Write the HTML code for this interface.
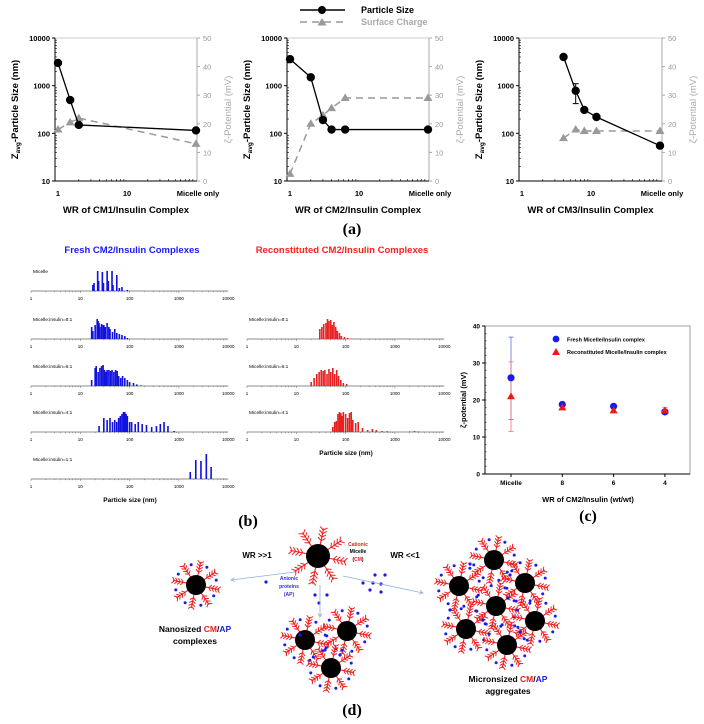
<!DOCTYPE html>
<html><head><meta charset="utf-8"><style>
html,body{margin:0;padding:0;background:#fff;}
svg{display:block;font-family:"Liberation Sans",Arial,sans-serif;}
.b{font-weight:bold}
</style></head><body>
<svg id="fig" width="704" height="724" viewBox="0 0 704 724" xmlns="http://www.w3.org/2000/svg">
<g id="legendA">
  <line x1="300" y1="10" x2="345" y2="10" stroke="#000" stroke-width="1.5"/>
  <circle cx="322" cy="10" r="4" fill="#000"/>
  <line x1="300" y1="22" x2="345" y2="22" stroke="#999" stroke-width="1.5" stroke-dasharray="7,5"/>
  <polygon points="322,18 326.5,25.5 317.5,25.5" fill="#999"/>
  <text x="361" y="13" font-size="9" class="b">Particle Size</text>
  <text x="361" y="25" font-size="9" class="b" fill="#aaa">Surface Charge</text>
</g>
<text x="352" y="234" font-size="16" font-weight="bold" font-family="Liberation Serif,serif" text-anchor="middle">(a)</text>
<text x="248" y="526" font-size="16" font-weight="bold" font-family="Liberation Serif,serif" text-anchor="middle">(b)</text>
<text x="588" y="521" font-size="16" font-weight="bold" font-family="Liberation Serif,serif" text-anchor="middle">(c)</text>
<text x="352" y="715" font-size="16" font-weight="bold" font-family="Liberation Serif,serif" text-anchor="middle">(d)</text>
<text x="132" y="253" font-size="9.5" class="b" fill="#1a1aff" text-anchor="middle">Fresh CM2/Insulin Complexes</text>
<text x="342" y="253" font-size="9.5" class="b" fill="#ff2020" text-anchor="middle">Reconstituted CM2/Insulin Complexes</text>
<text x="130" y="502" font-size="6.5" class="b" text-anchor="middle">Particle size (nm)</text>
<text x="346" y="455" font-size="6.5" class="b" text-anchor="middle">Particle size (nm)</text>
</svg>
<script>
const NS='http://www.w3.org/2000/svg';
const svg=document.getElementById('fig');
function mk(tag,attrs,parent){const e=document.createElementNS(NS,tag);for(const k in attrs)e.setAttribute(k,attrs[k]);(parent||svg).appendChild(e);return e;}

// ---------- Panel (a) data ----------
const a1Cats=['1','1.5','2','Micelle only'];
const a1X=[1,1.5,2,100];
const a1Size=[3000,500,150,115];
const a1Charge=[18,20.5,22,13];
const a2Cats=['1','2','3','4','6','Micelle only'];
const a2X=[1,2,3,4,6.3,100];
const a2Size=[3600,1500,190,120,120,120];
const a2Charge=[2.5,20,23,25.5,29,29];
const a3Cats=['4','6','8','12','Micelle only'];
const a3X=[4,6,8,12,100];
const a3Size=[4000,780,310,220,55];
const a3SizeErrLo=[4000,420,310,220,55];
const a3SizeErrHi=[4000,1100,310,220,55];
const a3Charge=[15,18,17.5,17.5,17.5];
const yLogTicks=[10,100,1000,10000];
const yChargeTicks=[0,10,20,30,40,50];

function panelA(left,right,x0,xVals,size,charge,title,name,errLo,errHi){
  const top=38,bot=181,dec=69;
  const g=mk('g',{});
  
  
  const xs=v=>x0+Math.log10(v)*dec;
  const ys=v=>bot-(Math.log10(v)-1)/3*(bot-top);
  const yc=v=>bot-v/50*(bot-top);
  mk('line',{x1:left,y1:top,x2:right,y2:top,stroke:'#ccc','stroke-width':1},g);
  mk('line',{x1:right,y1:top,x2:right,y2:bot,stroke:'#aaa','stroke-width':1},g);
  mk('line',{x1:left,y1:top,x2:left,y2:bot,stroke:'#000','stroke-width':1},g);
  mk('line',{x1:left,y1:bot,x2:right,y2:bot,stroke:'#000','stroke-width':1},g);
  for(let d=1;d<=3;d++){for(let m=2;m<10;m++){const y=bot-(d-1+Math.log10(m))/3*(bot-top);mk('line',{x1:left,y1:y,x2:left+2,y2:y,stroke:'#000','stroke-width':0.6},g);}}
  yLogTicks.forEach(t=>{const y=ys(t);mk('line',{x1:left-3,y1:y,x2:left,y2:y,stroke:'#000'},g);
    const tx=mk('text',{x:left-5,y:y+3,'font-size':7.5,'font-weight':'bold','text-anchor':'end'},g);tx.textContent=t;
    
    });
  yChargeTicks.forEach(t=>{const y=yc(t);mk('line',{x1:right,y1:y,x2:right+3,y2:y,stroke:'#aaa'},g);
    const tx=mk('text',{x:right+6,y:y+3,'font-size':7.5,fill:'#999'},g);tx.textContent=t;
    
    });
  for(let d=0;d<2;d++){for(let m=2;m<10;m++){const x=x0+(d+Math.log10(m))*dec;mk('line',{x1:x,y1:bot,x2:x,y2:bot-2,stroke:'#000','stroke-width':0.6},g);}}
  [[1,'1'],[10,'10']].forEach(([v,l])=>{const tx=mk('text',{x:xs(v),y:bot+15,'font-size':7.5,'font-weight':'bold','text-anchor':'middle'},g);tx.textContent=l;
    
    });
  const mt=mk('text',{x:xs(100)+2,y:bot+15,'font-size':7.5,'font-weight':'bold','text-anchor':'middle'},g);mt.textContent='Micelle only';
  
  
  const xt=mk('text',{x:(left+right)/2,y:bot+32,'font-size':9.5,'font-weight':'bold','text-anchor':'middle'},g);xt.textContent=title;
  
  
  const yt=mk('text',{transform:`translate(${left-37},${(top+bot)/2}) rotate(-90)`,'font-size':9.5,'font-weight':'bold','text-anchor':'middle'},g);
  yt.innerHTML='Z<tspan font-size="6.5" dy="2">avg</tspan><tspan dy="-2">-Particle Size (nm)</tspan>';
  
  
  const y2=mk('text',{transform:`translate(${right+34},${(top+bot)/2}) rotate(-90)`,'font-size':9.5,fill:'#aaa','text-anchor':'middle'},g);y2.textContent='ζ-Potential (mV)';
  
  
  const cl=mk('polyline',{points:xVals.map((v,i)=>xs(v)+','+yc(charge[i])).join(' '),fill:'none',stroke:'#999','stroke-width':1.5,'stroke-dasharray':'7,5'},g);
  
  
  xVals.forEach((v,i)=>{const x=xs(v),y=yc(charge[i]);const p=mk('polygon',{points:`${x},${y-4.5} ${x+4.5},${y+3} ${x-4.5},${y+3}`,fill:'#999'},g);
    
    });
  const sl=mk('polyline',{points:xVals.map((v,i)=>xs(v)+','+ys(size[i])).join(' '),fill:'none',stroke:'#000','stroke-width':1.3},g);
  
  
  xVals.forEach((v,i)=>{const x=xs(v),y=ys(size[i]);
    if(errLo&&errHi[i]!==errLo[i]){mk('line',{x1:x,y1:ys(errLo[i]),x2:x,y2:ys(errHi[i]),stroke:'#000'},g);mk('line',{x1:x-3,y1:ys(errLo[i]),x2:x+3,y2:ys(errLo[i]),stroke:'#000'},g);mk('line',{x1:x-3,y1:ys(errHi[i]),x2:x+3,y2:ys(errHi[i]),stroke:'#000'},g);}
    const c=mk('circle',{cx:x,cy:y,r:4.2,fill:'#000'},g);
    
    });
}
panelA(55,197,58,a1X,a1Size,a1Charge,'WR of CM1/Insulin Complex','chart-cm1');
panelA(287,429,290,a2X,a2Size,a2Charge,'WR of CM2/Insulin Complex','chart-cm2');
panelA(519,662,522,a3X,a3Size,a3Charge,'WR of CM3/Insulin Complex','chart-cm3',a3SizeErrLo,a3SizeErrHi);

// ---------- Panel (b) data ----------
const hMicelleS=[18,19,22.5,23.5,28,29.5,35,37,44,46,55,62,70,90];
const hMicelleH=[0.3,0.4,1,0.5,0.95,0.4,1,0.5,1,0.3,0.8,0.15,0.2,0.05];
const h8S=[17,18,20,22,23,24,25,27,29,30,32,35,38,40,45,50,55,62,70,80,90];
const h8H=[0.6,0.4,0.7,1,0.9,0.8,0.6,0.75,0.7,0.7,0.6,0.8,0.6,0.5,0.35,0.5,0.3,0.25,0.2,0.15,0.05];
const h6S=[17,20,21,23,25,27,29,31,33,35,38,41,44,48,52,56,60,66,72,80,90,100,120,140,170];
const h6H=[0.3,0.9,1.0,0.7,0.9,1,1.05,0.8,0.7,0.8,0.8,0.75,0.8,0.7,0.8,0.75,0.5,0.4,0.5,0.4,0.3,0.2,0.15,0.08,0.03];
const h4S=[24,30,35,40,45,50,55,60,65,70,75,80,85,90,100,110,130,150,180,220,280,350,420,500,600,800];
const h4H=[0.3,0.7,0.6,0.7,0.5,0.6,0.5,0.7,0.8,0.9,1,1,0.9,0.8,0.5,0.5,0.4,0.5,0.4,0.35,0.25,0.3,0.4,0.5,0.3,0.05];
const h1S=[1700,2200,2800,3600,4500];
const h1H=[0.35,0.95,0.9,1.25,0.6];
const r8S=[30,33,36,40,43,46,50,54,58,63,68,75,82,95,110];
const r8H=[0.5,0.6,0.75,0.8,1.0,0.9,0.95,0.7,0.85,0.6,0.4,0.3,0.15,0.1,0.05];
const r6S=[20,23,26,29,32,35,38,42,46,50,55,60,66,72,80,90,105];
const r6H=[0.2,0.4,0.6,0.7,0.8,0.75,0.8,0.6,0.85,0.7,0.9,0.6,0.8,0.5,0.3,0.15,0.1];
const r4S=[55,60,65,70,75,80,85,90,100,110,120,130,140,160,180,220,280,350,420,550,700,2000,2500,3000];
const r4H=[0.25,0.5,0.55,0.9,1,0.95,0.8,1,0.9,0.7,0.95,1,0.6,0.45,0.5,0.2,0.1,0.15,0.1,0.05,0.04,0.03,0.05,0.03];
const histTicks=[1,10,100,1000,10000];

function hist(x0,base,sizes,hts,color,label,name){
  const dec=49.3,sc=20;
  const g=mk('g',{});
  
  
  const xs=v=>x0+Math.log10(v)*dec;
  mk('line',{x1:x0,y1:base,x2:x0+4*dec,y2:base,stroke:'#666','stroke-width':0.8},g);
  for(let d=0;d<4;d++)for(let m=1;m<10;m++){const x=x0+(d+Math.log10(m))*dec;mk('line',{x1:x,y1:base,x2:x,y2:base+(m==1?2:1.2),stroke:'#666','stroke-width':0.5},g);}
  histTicks.forEach(t=>{const tx=mk('text',{x:xs(t),y:base+9,'font-size':4.5,'text-anchor':'middle'},g);tx.textContent=t;
    
    });
  const lb=mk('text',{x:x0+2,y:base-18,'font-size':4.8},g);lb.textContent=label;
  
  
  sizes.forEach((s,i)=>{const h=hts[i]*sc;const r=mk('rect',{x:xs(s)-0.8,y:base-h,width:1.6,height:h,fill:color},g);
    
    });
}
hist(31,291,hMicelleS,hMicelleH,'#1010e0','Micelle','hist-fresh-micelle');
hist(31,339,h8S,h8H,'#1010e0','Micelle:insulin=8:1','hist-fresh-8');
hist(31,386,h6S,h6H,'#1010e0','Micelle:insulin=6:1','hist-fresh-6');
hist(31,432,h4S,h4H,'#1010e0','Micelle:insulin=4:1','hist-fresh-4');
hist(31,479,h1S,h1H,'#1010e0','Micelle:insulin=1:1','hist-fresh-1');
hist(247,339,r8S,r8H,'#e82020','Micelle:insulin=8:1','hist-recon-8');
hist(247,386,r6S,r6H,'#e82020','Micelle:insulin=6:1','hist-recon-6');
hist(247,432,r4S,r4H,'#e82020','Micelle:insulin=4:1','hist-recon-4');

// ---------- Panel (c) data ----------
const cCats=['Micelle','8','6','4'];
const cFresh=[26,18.8,18.3,16.8];
const cFreshLo=[14.7,18.4,17.9,16.4];
const cFreshHi=[37,19.2,18.7,17.2];
const cRecon=[21,18,17.2,17.2];
const cReconLo=[11.5,17.6,16.8,16.4];
const cReconHi=[30.3,18.4,17.6,18];
const cTicks=[0,10,20,30,40];
(function(){
  const L=485,R=690,T=326,B=474,step=51.3,c0=511;
  const g=mk('g',{});
  
  
  const yv=v=>B-v/40*(B-T);const xc=i=>c0+i*step;
  mk('rect',{x:L,y:T,width:R-L,height:B-T,fill:'none',stroke:'#888','stroke-width':0.8},g);
  mk('line',{x1:L,y1:T,x2:L,y2:B,stroke:'#000'},g);mk('line',{x1:L,y1:B,x2:R,y2:B,stroke:'#000'},g);
  cTicks.forEach(t=>{const y=yv(t);mk('line',{x1:L-3,y1:y,x2:L,y2:y,stroke:'#000'},g);
    const tx=mk('text',{x:L-5,y:y+2.5,'font-size':6.5,'font-weight':'bold','text-anchor':'end'},g);tx.textContent=t;
    
    });
  for(let t=0;t<40;t+=2){const y=yv(t);mk('line',{x1:L,y1:y,x2:L+1.5,y2:y,stroke:'#000','stroke-width':0.5},g);}
  cCats.forEach((c,i)=>{mk('line',{x1:xc(i),y1:B,x2:xc(i),y2:B+3,stroke:'#000'},g);
    const tx=mk('text',{x:xc(i),y:B+11,'font-size':6.5,'font-weight':'bold','text-anchor':'middle'},g);tx.textContent=c;
    
    });
  const xt=mk('text',{x:588,y:502,'font-size':7.5,'font-weight':'bold','text-anchor':'middle'},g);xt.textContent='WR of CM2/Insulin (wt/wt)';
  
  
  const yt=mk('text',{transform:`translate(466,${(T+B)/2}) rotate(-90)`,'font-size':7.5,'font-weight':'bold','text-anchor':'middle'},g);yt.textContent='ζ-potential (mV)';
  
  
  function err(i,lo,hi,col){const x=xc(i);mk('line',{x1:x,y1:yv(lo),x2:x,y2:yv(hi),stroke:col,'stroke-width':0.8},g);
    [lo,hi].forEach(v=>mk('line',{x1:x-2.5,y1:yv(v),x2:x+2.5,y2:yv(v),stroke:col,'stroke-width':0.8},g));}
  cCats.forEach((c,i)=>{err(i,cFreshLo[i],cFreshHi[i],'#6a6ae0');err(i,cReconLo[i],cReconHi[i],'#f07070');});
  cCats.forEach((c,i)=>{const x=xc(i),y=yv(cFresh[i]);const p=mk('circle',{cx:x,cy:y,r:3.6,fill:'#1a1aee'},g);
    
    
    const yr=yv(cRecon[i]);const q=mk('polygon',{points:`${x},${yr-4} ${x+4},${yr+3} ${x-4},${yr+3}`,fill:'#ee1a1a'},g);
    
    });
  mk('circle',{cx:556,cy:339,r:3.4,fill:'#1a1aee'},g);
  mk('polygon',{points:'556,348 560,355 552,355',fill:'#ee1a1a'},g);
  const l1=mk('text',{x:567,y:341.5,'font-size':5.5,'font-weight':'bold'},g);l1.textContent='Fresh Micelle/Insulin complex';
  
  
  const l2=mk('text',{x:567,y:354,'font-size':5.5,'font-weight':'bold'},g);l2.textContent='Reconstituted Micelle/Insulin complex';
  
  
})();

// ---------- Panel (d) schematic ----------
const gd=mk('g',{});


function micelle(cx,cy,r,dots){
  const arm=r*1.35;
  for(let k=0;k<8;k++){const a=k*Math.PI/4+0.2;const ca=Math.cos(a),sa=Math.sin(a);
    const x1=cx+ca*r*0.9,y1=cy+sa*r*0.9,x2=cx+ca*(r+arm),y2=cy+sa*(r+arm);
    mk('line',{x1:x1,y1:y1,x2:x2,y2:y2,stroke:'#f02020','stroke-width':1.1},gd);
    for(let j=1;j<=4;j++){const t=r+arm*j/4.5;const bx=cx+ca*t,by=cy+sa*t;const l=arm*0.3;
      mk('line',{x1:bx,y1:by,x2:bx+Math.cos(a+0.9)*l,y2:by+Math.sin(a+0.9)*l,stroke:'#f02020','stroke-width':1},gd);
      mk('line',{x1:bx,y1:by,x2:bx+Math.cos(a-0.9)*l,y2:by+Math.sin(a-0.9)*l,stroke:'#f02020','stroke-width':1},gd);}
    if(dots){const d=mk('circle',{cx:cx+Math.cos(a+0.35)*(r+arm*0.8),cy:cy+Math.sin(a+0.35)*(r+arm*0.8),r:1.5,fill:'#1a1aee'},gd);}
  }
  const c=mk('circle',{cx:cx,cy:cy,r:r,fill:'#000'},gd);
  
  
}
micelle(318,556,12,false);
micelle(196,585,10,true);
[[305,640],[347,631],[331,668]].forEach(p=>micelle(p[0],p[1],10,true));
[[494,560],[459,586],[525,583],[496,606],[466,629],[535,621],[507,645]].forEach(p=>micelle(p[0],p[1],10,true));
[[266,582],[315,595],[327,595],[319,603],[375,575],[385,575],[363,583],[373,583],[381,584],[370,590],[381,592],[470,564],[510,575],[483,620],[520,632],[450,610],[508,598],[300,635],[325,650],[340,655]].forEach(p=>mk('circle',{cx:p[0],cy:p[1],r:1.6,fill:'#1a1aee'},gd));
[[295,572,231,580],[320,585,320,617],[343,576,423,593]].forEach(a=>{mk('line',{x1:a[0],y1:a[1],x2:a[2],y2:a[3],stroke:'#8fb0d8','stroke-width':0.8},gd);
  const ang=Math.atan2(a[3]-a[1],a[2]-a[0]);
  mk('polyline',{points:`${a[2]-4*Math.cos(ang-0.5)},${a[3]-4*Math.sin(ang-0.5)} ${a[2]},${a[3]} ${a[2]-4*Math.cos(ang+0.5)},${a[3]-4*Math.sin(ang+0.5)}`,fill:'none',stroke:'#8fb0d8','stroke-width':0.8},gd);});
function txt(x,y,s,size,fill,anchor,name,bold){const t=mk('text',{x:x,y:y,'font-size':size,fill:fill,'text-anchor':anchor||'middle','font-weight':bold===false?'normal':'bold'},gd);t.innerHTML=s;
  
  }
txt(257,558,'WR &gt;&gt;1',8,'#000','middle','wr-high-label');
txt(405,558,'WR &lt;&lt;1',8,'#000','middle','wr-low-label');
txt(358,546,'Cationic',5,'#e82020','middle','cationic-label');
txt(358,553,'Micelle',5,'#000','middle','micelle-label');
txt(358,561,'(<tspan fill="#e82020">CM</tspan>)',5,'#000','middle','cm-label');
txt(289,580,'Anionic',5,'#3030e0','middle','anionic-label');
txt(289,588,'proteins',5,'#3030e0','middle','proteins-label');
txt(289,596,'(AP)',5,'#3030e0','middle','ap-label');
txt(195,632,'Nanosized <tspan fill="#e82020">CM</tspan>/<tspan fill="#2020e0">AP</tspan>',8.5,'#000','middle','nanosized-label');
txt(195,644,'complexes',8.5,'#000','middle','complexes-label');
txt(508,682,'Micronsized <tspan fill="#e82020">CM</tspan>/<tspan fill="#2020e0">AP</tspan>',8.5,'#000','middle','micronsized-label');
txt(508,694,'aggregates',8.5,'#000','middle','aggregates-label');
</script>
</body></html>
